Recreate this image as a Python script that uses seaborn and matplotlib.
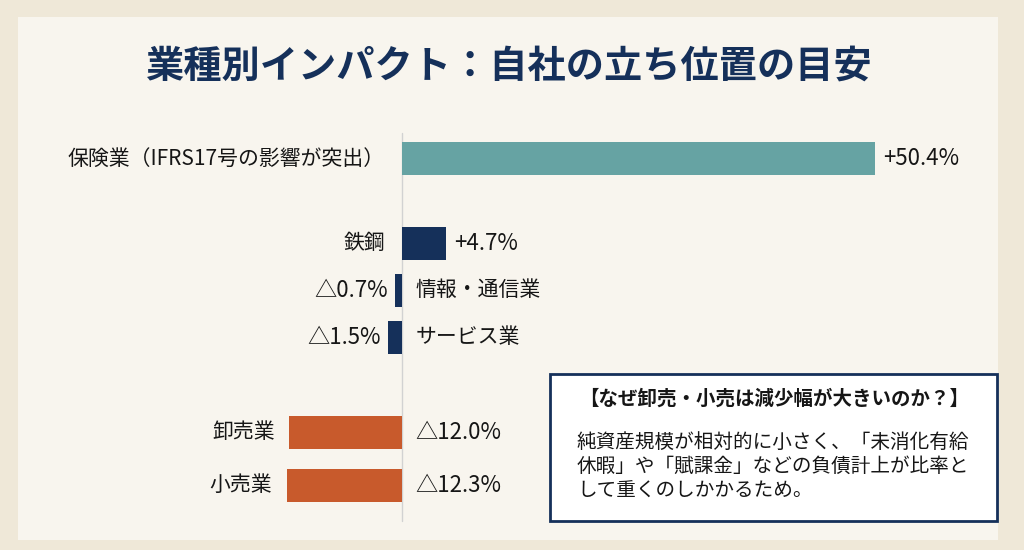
import matplotlib
matplotlib.use('Agg')
import matplotlib.pyplot as plt
from matplotlib.patches import Rectangle
import pandas as pd
import seaborn as sns

# chart data
industries = ['保険業（IFRS17号の影響が突出）', '鉄鋼', '情報・通信業', 'サービス業', '卸売業', '小売業']
impact = [50.4, 4.7, -0.7, -1.5, -12.0, -12.3]
groups = ['保険', '中間', '中間', '中間', '流通', '流通']

title = '業種別インパクト：自社の立ち位置の目安'
note_title = '【なぜ卸売・小売は減少幅が大きいのか？】'
note_lines = [
    '純資産規模が相対的に小さく、「未消化有給',
    '休暇」や「賦課金」などの負債計上が比率と',
    'して重くのしかかるため。',
]

# vertical slot of each row (gaps between groups)
row_pos = [0, 1.8, 2.8, 3.8, 5.82, 6.95]

palette = {'保険': '#66a3a3', '中間': '#15305a', '流通': '#c85a2c'}
NAVY = '#15305a'
TXT = '#161616'

sns.set_theme(style='white')
plt.rcParams['font.family'] = ['Noto Sans CJK JP', 'DejaVu Sans']

W, H = 1024, 550
fig = plt.figure(figsize=(W / 100, H / 100), dpi=100, facecolor='#efe8d8')


def fx(px):
    return px / W


def fy(py):
    return 1 - py / H


# inner panel (behind everything)
fig.patches.append(Rectangle((fx(18), fy(540)), fx(998) - fx(18), fy(17) - fy(540),
                             transform=fig.transFigure, facecolor='#f8f5ee',
                             edgecolor='none', zorder=-5))

fig.text(fx(508), fy(66), title, ha='center', va='center', fontsize=27.5,
         fontweight='bold', color=NAVY)

df = pd.DataFrame({'industry': industries, 'impact': impact,
                   'group': groups, 'pos': row_pos})

ax = fig.add_axes([fx(100), fy(530), fx(1000) - fx(100), fy(120) - fy(530)])
ax.patch.set_alpha(0)
sns.barplot(data=df, x='impact', y='pos', hue='group', palette=palette,
            orient='y', native_scale=True, dodge=False, width=0.7,
            saturation=1, linewidth=0, errorbar=None, legend=False, ax=ax)

px_per_unit = 9.39
ax.set_xlim(-302 / px_per_unit, 598 / px_per_unit)
ax.set_ylim(7.9, -0.82)
ax.axis('off')

# zero line
ax.plot([0, 0], [-0.54, 7.7], color='#d2d2d2', lw=1, zorder=0)

NAME_FS = 15
VAL_FS = 16


def fmt(v):
    return f'+{v:.1f}%' if v >= 0 else f'△{abs(v):.1f}%'


for name, v, y in zip(industries, impact, row_pos):
    if v >= 0:
        ax.text(-1.8, y, name, ha='right', va='center', fontsize=NAME_FS, color=TXT)
        ax.text(v + 0.85, y, fmt(v), ha='left', va='center', fontsize=VAL_FS, color=TXT)
    elif v > -5:
        ax.text(v - 0.75, y, fmt(v), ha='right', va='center', fontsize=VAL_FS, color=TXT)
        ax.text(1.4, y, name, ha='left', va='center', fontsize=NAME_FS, color=TXT)
    else:
        ax.text(v - 1.5, y, name, ha='right', va='center', fontsize=NAME_FS, color=TXT)
        ax.text(1.4, y, fmt(v), ha='left', va='center', fontsize=VAL_FS, color=TXT)

# note box
fig.patches.append(Rectangle((fx(550), fy(521)), fx(997) - fx(550), fy(374) - fy(521),
                             transform=fig.transFigure, facecolor='white',
                             edgecolor=NAVY, linewidth=2, zorder=2))
fig.text(fx(774), fy(399), note_title, ha='center', va='center', fontsize=14,
         fontweight='bold', color=TXT, zorder=3)
for i, line in enumerate(note_lines):
    fig.text(fx(577), fy(442 + 24.5 * i), line, ha='left', va='center',
             fontsize=14.1, color=TXT, zorder=3)

fig.savefig('out.png', dpi=100, facecolor=fig.get_facecolor())
